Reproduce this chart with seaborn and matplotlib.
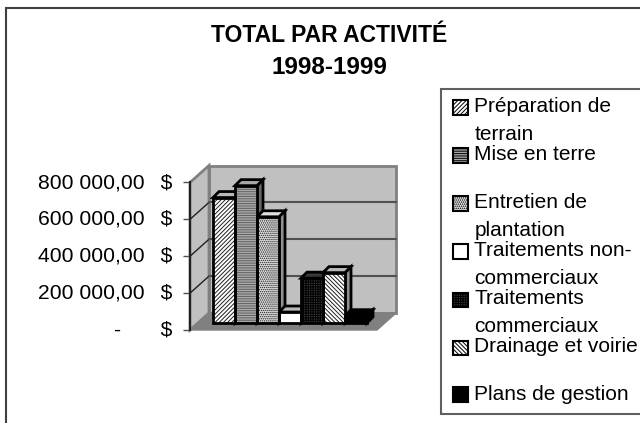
import pandas as pd
import seaborn as sns
import matplotlib.pyplot as plt
from matplotlib.patches import Polygon, Rectangle
from matplotlib.transforms import IdentityTransform

activities = ['Préparation de\nterrain', 'Mise en terre\n ', 'Entretien de\nplantation',
              'Traitements non-\ncommerciaux', 'Traitements\ncommerciaux',
              'Drainage et voirie\n ', 'Plans de gestion']
totals = [685000, 750000, 580000, 60000, 245000, 275000, 40000]
tick_values = [0, 200000, 400000, 600000, 800000]
tick_labels = ['-      \u2009$', '200 000,00  \u2009$', '400 000,00  \u2009$', '600 000,00  \u2009$', '800 000,00  \u2009$']
bar_colors = ['white', '#a8a8a8', '#e0e0e0', 'white', '#383838', 'white', 'black']
side_colors = ['#909090', '#686868', '#909090', '#c0c0c0', '#202020', '#909090', 'black']
hatch_colors = ['#202020', '#606060', '#202020', 'black', 'black', '#202020', 'black']
bar_hatches = ['////////', '-------', '........', '', '+++++++', '\\\\\\\\\\\\\\\\', '']

W, H = 640, 423
sns.set_style('white')
plt.rcParams['font.family'] = ['Liberation Sans', 'DejaVu Sans']
plt.rcParams['hatch.linewidth'] = 0.7
plt.rcParams['text.color'] = 'black'
plt.rcParams['ytick.labelcolor'] = 'black'

def px_axes(fig, x0, y_top, x1, y_bot):
    return fig.add_axes([x0/W, 1-y_bot/H, (x1-x0)/W, (y_bot-y_top)/H])

fig = plt.figure(figsize=(6.4, 4.23), dpi=100)
px = IdentityTransform()

# outer chart border runs off the right and bottom of the picture
fig.add_artist(Rectangle((6/W, -0.02), 1.1, 1-8/H+0.02, transform=fig.transFigure,
                         fc='white', ec='#404040', lw=1.5, zorder=-1))
fig.text(329/W, 1-36/H, 'TOTAL PAR ACTIVITÉ', ha='center', va='center', fontsize=16.5, fontweight='bold')
fig.text(329/W, 1-68/H, '1998-1999', ha='center', va='center', fontsize=17.5, fontweight='bold')

#%%
# frame axes holds the value axis, walls and floor
frame = px_axes(fig, 190, 182.5, 377, 330)
frame.set_xlim(0, 1)
frame.set_ylim(0, 800000)
frame.patch.set_visible(False)
frame.set_xticks([])
frame.set_yticks(tick_values)
frame.set_yticklabels(tick_labels, fontsize=15.2, va='center')
frame.tick_params(axis='y', left=True, length=5, width=1, color='#505050', pad=8)
sns.despine(ax=frame, top=True, right=True, bottom=True)
frame.spines['left'].set_linewidth(1.5)
frame.spines['left'].set_color('#202020')
dx, dy = 19, 17

def to_px(a, x, y):
    return a.transData.transform((x, y))

x0y0 = to_px(frame, 0, 0)
x1y0 = to_px(frame, 1, 0)
x0y1 = to_px(frame, 0, 800000)
x1y1 = to_px(frame, 1, 800000)
back = lambda p: (p[0]+dx, p[1]+dy)
wall = dict(transform=px, clip_on=False, fc='#c0c0c0', ec='#808080', lw=2, zorder=1)
frame.add_artist(Polygon([back(x0y0), back(x1y0), back(x1y1), back(x0y1)], **wall))
frame.add_artist(Polygon([x0y0, back(x0y0), back(x0y1), x0y1], **wall))
frame.add_artist(Polygon([x0y0, x1y0, back(x1y0), back(x0y0)], transform=px, clip_on=False,
                         fc='#808080', ec='#808080', lw=1, zorder=2))
for v in tick_values[1:-1]:
    a = to_px(frame, 0, v)
    b = to_px(frame, 1, v)
    frame.plot([a[0], back(a)[0]], [a[1], back(a)[1]], transform=px,
               color='#202020', lw=1, clip_on=False, zorder=2)
    frame.plot([back(a)[0], back(b)[0]], [back(a)[1], back(b)[1]], transform=px,
               color='#505050', lw=1.5, clip_on=False, zorder=2)

#%%
# bars sit in their own axes, set back a little from the front of the floor
ax = px_axes(fig, 213, 176.5, 367, 323)
ax.patch.set_visible(False)
df = pd.DataFrame({'activite': activities, 'total': totals})
sns.barplot(data=df, x='activite', y='total', ax=ax, width=1, color='white', saturation=1, zorder=3)
ax.set_xlim(-0.5, 6.5)
ax.set_ylim(0, 800000)
ax.axis('off')
depth = 6
handles = []
for patch, c, sc, hc, h in zip(ax.patches, bar_colors, side_colors, hatch_colors, bar_hatches):
    # hatch takes the edge colour, so the black outline goes on top separately
    patch.set(facecolor=c, hatch=h, edgecolor=hc, linewidth=0, zorder=3, clip_on=False)
    handles.append(patch)
    l, r = patch.get_x(), patch.get_x()+patch.get_width()
    top = patch.get_height()
    ax.add_patch(Rectangle((l, 0), r-l, top, fill=False, ec='black', lw=2, zorder=4, clip_on=False))
    br = to_px(ax, r, 0)
    tl, tr = to_px(ax, l, top), to_px(ax, r, top)
    shift = lambda p: (p[0]+depth, p[1]+depth)
    ax.add_artist(Polygon([br, tr, shift(tr), shift(br)], transform=px, fc=sc, ec='black', lw=2,
                          clip_on=False, zorder=2))
    ax.add_artist(Polygon([tl, tr, shift(tr), shift(tl)], transform=px, fc=c if c != 'white' else '#b8b8b8',
                          ec='black', lw=2, clip_on=False, zorder=2))

#%%
# legend box is drawn by hand since the two-line rows overrun a normal legend frame
fig.add_artist(Rectangle((441/W, 1-414/H), 1, 325/H, transform=fig.transFigure,
                         fc='white', ec='#606060', lw=1.5, zorder=-0.5))
leg = fig.legend(handles, activities, loc='upper left', bbox_to_anchor=(441/W, 1-91/H),
                 bbox_transform=fig.transFigure, fontsize=15, frameon=False,
                 labelspacing=0.05, handlelength=0.72, handleheight=0.72,
                 handletextpad=0.58, borderpad=0.3, borderaxespad=0)
for text in leg.get_texts():
    text.set_linespacing(1.6)
for handle, label in zip(leg.legend_handles, activities):
    # two-line rows centre the handle on the block, pull it back up to the first line
    handle.set_y(handle.get_y()+(9.5 if '\n' in label else -1))
    handle.set_x(handle.get_x()+4)
    handle.set_edgecolor('black')
    handle.set_linewidth(1.5)

fig.savefig('out.png', dpi=100)
